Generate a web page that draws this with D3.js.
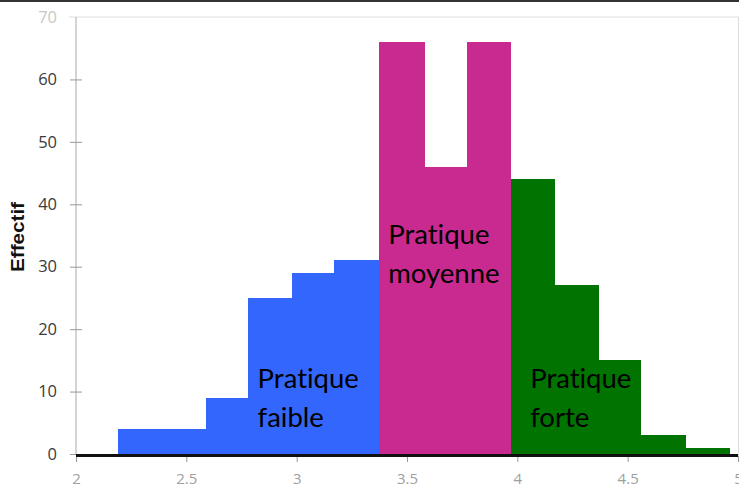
<!DOCTYPE html>
<html><head><meta charset="utf-8">
<script src="https://cdn.jsdelivr.net/npm/d3@7"></script>
<style>
html,body{margin:0;padding:0;background:#fff;}
svg{display:block;}
</style></head>
<body>
<script>
// Data
const binEdges = [2.19, 2.39, 2.59, 2.78, 2.98, 3.17, 3.375, 3.58, 3.77, 3.97, 4.17, 4.37, 4.56, 4.76, 4.96];
const counts   = [4, 4, 9, 25, 29, 31, 66, 46, 66, 44, 27, 15, 3, 1];
const groups   = ["faible","faible","faible","faible","faible","faible","moyenne","moyenne","moyenne","forte","forte","forte","forte","forte"];
const groupColors = {faible: "#3366fc", moyenne: "#c82a90", forte: "#017301"};
const xTicks = [2, 2.5, 3, 3.5, 4, 4.5, 5];
const xTickLabels = ["2", "2.5", "3", "3.5", "4", "4.5", "5"];
const yTicks = [0, 10, 20, 30, 40, 50, 60, 70];
const yTitle = "Effectif";
const annotations = [
  {lines: ["Pratique", "faible"], x: 2.823, y: 10.5},
  {lines: ["Pratique", "moyenne"], x: 3.415, y: 33.6},
  {lines: ["Pratique", "forte"], x: 4.058, y: 10.5}
];

const W = 739, H = 486;
const svg = d3.select("body").append("svg").attr("width", W).attr("height", H);

const x = d3.scaleLinear().domain([2, 5]).range([76, 738]);
const y = d3.scaleLinear().domain([0, 70]).range([454, 17]);

// top frame line
svg.append("rect").attr("x", 0).attr("y", 0).attr("width", W).attr("height", 2).attr("fill", "#333");
// right light border
svg.append("line").attr("x1", 738.5).attr("x2", 738.5).attr("y1", y(70)).attr("y2", 457)
  .attr("stroke", "#dcdcdc").attr("stroke-width", 1);
// gridline at 70
svg.append("line").attr("x1", 69).attr("x2", 738).attr("y1", y(70)).attr("y2", y(70))
  .attr("stroke", "#e8e8e8").attr("stroke-width", 1.5);

// bars
const bars = counts.map((c, i) => ({x0: binEdges[i], x1: binEdges[i+1], c, g: groups[i]}));
svg.append("g").selectAll("rect").data(bars).join("rect")
  .attr("x", d => x(d.x0))
  .attr("width", d => x(d.x1) - x(d.x0) + 0.5)
  .attr("y", d => y(d.c))
  .attr("height", d => y(0) - y(d.c))
  .attr("fill", d => groupColors[d.g])
  .attr("shape-rendering", "crispEdges");

// y axis
const yAxis = d3.axisLeft(y).tickValues(yTicks).tickSize(6).tickPadding(13).tickFormat(d3.format("d"));
const gy = svg.append("g").attr("transform", "translate(76,0)").call(yAxis);
gy.select(".domain").attr("stroke", "#a8a8a8").attr("d", `M0,${y(70)}V${y(0)}`);
gy.selectAll(".tick line").attr("stroke", "#999").attr("x1", 6).attr("x2", -6)
  .filter(d => d === 70).remove();
gy.selectAll(".tick text").attr("fill", d => d === 70 ? "#c8c8c8" : "#3a3a3a")
  .style("font-family", "'Open Sans', sans-serif").style("font-size", "16.5px")
  .attr("x", -19);

// x axis
const xAxis = d3.axisBottom(x).tickValues(xTicks).tickSize(6).tickPadding(11)
  .tickFormat((d, i) => xTickLabels[i]);
const gx = svg.append("g").attr("transform", "translate(0,456)").call(xAxis);
gx.select(".domain").remove();
gx.selectAll(".tick line").attr("stroke", "#999");
gx.selectAll(".tick text").attr("fill", "#a0a0a0")
  .style("font-family", "'Open Sans', sans-serif").style("font-size", "15px");
// baseline
svg.append("line").attr("x1", x(2)).attr("x2", 738).attr("y1", 455.5).attr("y2", 455.5)
  .attr("stroke", "#111").attr("stroke-width", 3);

// y title
svg.append("text")
  .attr("transform", `translate(24,237) rotate(-90)`)
  .attr("text-anchor", "middle")
  .attr("textLength", 70).attr("lengthAdjust", "spacingAndGlyphs")
  .style("font-family", "'Liberation Sans', Arial, sans-serif")
  .style("font-weight", "bold").style("font-size", "17.5px").attr("fill", "#111")
  .text(yTitle);

// annotations
annotations.forEach(a => {
  const t = svg.append("text")
    .attr("x", x(a.x)).attr("y", y(a.y))
    .style("font-family", "Lato, 'Open Sans', sans-serif").style("font-size", "27.5px")
    .style("font-variant-ligatures", "none")
    .attr("fill", "#000");
  a.lines.forEach((ln, i) => {
    t.append("tspan").attr("x", x(a.x)).attr("dy", i === 0 ? 0 : 38.5).text(ln);
  });
});
</script>
</body></html>
